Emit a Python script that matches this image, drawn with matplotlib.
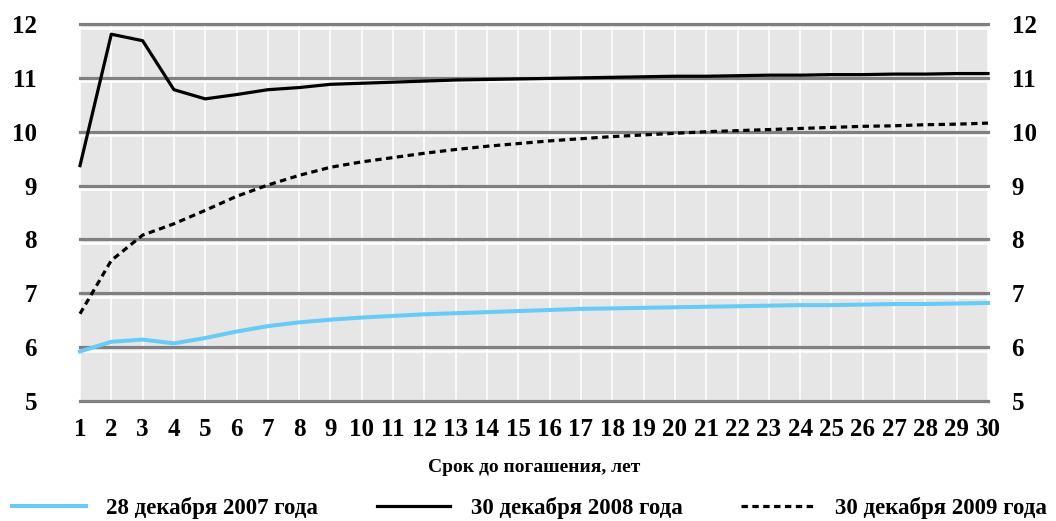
import matplotlib
matplotlib.use("Agg")
import matplotlib.pyplot as plt
import matplotlib.transforms as mtransforms

# сроки до погашения, лет
years = list(range(1, 31))

# кривые доходности, %
curve_2007 = [5.92, 6.10, 6.14, 6.07, 6.17, 6.29, 6.39, 6.46, 6.51, 6.55,
              6.58, 6.61, 6.63, 6.65, 6.67, 6.69, 6.71, 6.72, 6.73, 6.74,
              6.75, 6.76, 6.77, 6.78, 6.78, 6.79, 6.80, 6.80, 6.81, 6.82]
curve_2008 = [9.37, 11.81, 11.69, 10.78, 10.61, 10.69, 10.78, 10.82, 10.88, 10.90,
              10.92, 10.94, 10.96, 10.97, 10.98, 10.99, 11.00, 11.01, 11.02, 11.03,
              11.03, 11.04, 11.05, 11.05, 11.06, 11.06, 11.07, 11.07, 11.08, 11.08]
curve_2009 = [6.62, 7.61, 8.08, 8.29, 8.54, 8.80, 9.01, 9.19, 9.34, 9.44,
              9.52, 9.60, 9.67, 9.73, 9.78, 9.83, 9.87, 9.91, 9.94, 9.97,
              10.00, 10.02, 10.04, 10.06, 10.08, 10.10, 10.11, 10.13, 10.14, 10.16]

labels = ["28 декабря 2007 года", "30 декабря 2008 года", "30 декабря 2009 года"]
y_ticks = [5, 6, 7, 8, 9, 10, 11, 12]

# шрифт: жирный с засечками
font = dict(family="Liberation Serif", weight="bold")

fig = plt.figure(figsize=(10.56, 5.21), dpi=100, facecolor="white")
ax = fig.add_axes([80 / 1056, 1 - 401 / 521, 908 / 1056, 377 / 521])
ax.set_facecolor("#e6e6e6")
ax.set_xlim(1, 30)
ax.set_ylim(5, 12)
for s in ax.spines.values():
    s.set_visible(False)

# вертикальная сетка - белые линии
for x in years:
    ax.axvline(x, color="white", lw=1.2, zorder=1)

# горизонтальная сетка - серая линия с белой полоской снизу
shift = mtransforms.offset_copy(ax.transData, fig=fig, x=0, y=-3.5, units="dots")
for y in y_ticks:
    ax.plot([1, 30], [y, y], color="white", lw=1.8, transform=shift,
            zorder=2, clip_on=False, solid_capstyle="butt")
    ax.axhline(y, color="#808080", lw=2.3, zorder=3, clip_on=False)

ax.plot(years, curve_2007, color="#66ccf5", lw=2.9, label=labels[0], zorder=5,
        clip_on=False)
ax.plot(years, curve_2008, color="black", lw=2.3, label=labels[1], zorder=5,
        clip_on=False)
ax.plot(years, curve_2009, color="black", lw=2.3, linestyle=(0, (2.0, 1.4)),
        label=labels[2], zorder=5, clip_on=False)

ax.set_xticks(years)
ax.set_xticklabels([str(x) for x in years], fontsize=18, **font)
ax.set_yticks(y_ticks)
ax.set_yticklabels([str(y) for y in y_ticks], fontsize=18, **font)
ax.tick_params(axis="both", length=0)
ax.tick_params(axis="x", pad=12)
ax.tick_params(axis="y", pad=31)

ax2 = ax.twinx()
ax2.set_ylim(5, 12)
ax2.set_yticks(y_ticks)
ax2.set_yticklabels([str(y) for y in y_ticks], fontsize=18, **font)
ax2.tick_params(axis="y", length=0, pad=17)
for s in ax2.spines.values():
    s.set_visible(False)

ax.set_xlabel("Срок до погашения, лет", fontsize=14, labelpad=13, **font)

fig.legend(loc="lower left", bbox_to_anchor=(0.003, -0.013, 0.997, 0.06),
           mode="expand", ncol=3, frameon=False, handlelength=3.2,
           handletextpad=0.9, borderaxespad=0,
           prop=dict(size=16.5, **font))

fig.savefig("out.png", dpi=100, facecolor="white")
